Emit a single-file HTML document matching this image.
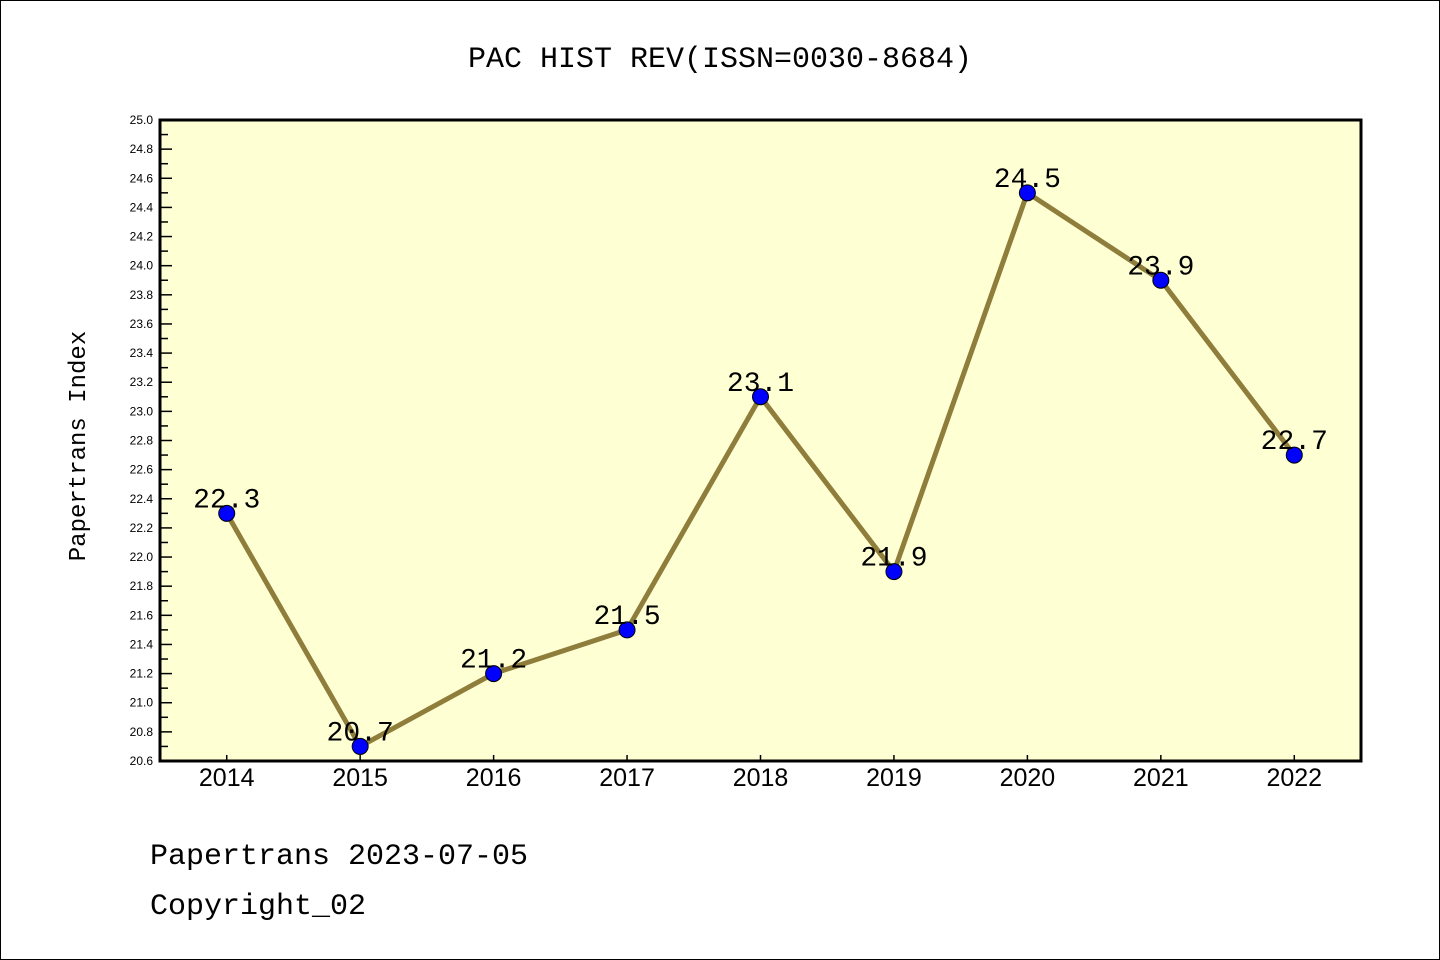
<!DOCTYPE html>
<html><head><meta charset="utf-8"><style>
body{margin:0;background:#fff}
svg{display:block;font-family:"Liberation Mono","DejaVu Sans Mono",monospace}
</style></head><body>
<svg width="1440" height="960" id="chart">
<rect x="0.5" y="0.5" width="1439" height="959" fill="#fff" stroke="#000"/>
<text x="720" y="67" text-anchor="middle" font-size="30" fill="#000">PAC HIST REV(ISSN=0030-8684)</text>
<rect x="160" y="120" width="1201" height="641" fill="#ffffd4"/>
<g id="grid"></g>
<text transform="translate(85,446) rotate(-90)" text-anchor="middle" font-size="24" fill="#000">Papertrans Index</text>
<text x="150" y="864" font-size="30" fill="#000">Papertrans 2023-07-05</text>
<text x="150" y="914" font-size="30" fill="#000">Copyright_02</text>
</svg>
<script>
const categories=["2014","2015","2016","2017","2018","2019","2020","2021","2022"];
const values=[22.3,20.7,21.2,21.5,23.1,21.9,24.5,23.9,22.7];
const yTicks=["20.6","20.8","21.0","21.2","21.4","21.6","21.8","22.0","22.2","22.4","22.6","22.8","23.0","23.2","23.4","23.6","23.8","24.0","24.2","24.4","24.6","24.8","25.0"];
const yMin=20.6,yMax=25.0;
const L=160,R=1361,T=120,B=761;
const ns="http://www.w3.org/2000/svg";
const g=document.getElementById('grid');
function y(v){return B-(v-yMin)/(yMax-yMin)*(B-T);}
function x(i){return L+(R-L)/categories.length*(i+0.5);}
function mk(t,a){const e=document.createElementNS(ns,t);for(const k in a)e.setAttribute(k,a[k]);g.appendChild(e);return e;}
yTicks.forEach((t,i)=>{
 const v=parseFloat(t),yy=y(v);
 const tk=mk('line',{x1:L,x2:L+12,y1:yy,y2:yy,stroke:'#000','stroke-width':1.5});
 
 
 const lb=mk('text',{x:153,y:yy+4,'text-anchor':'end','font-size':12,fill:'#000','font-family':'Liberation Sans, sans-serif'});
 lb.textContent=t;
 
 
 if(i<yTicks.length-1){
  const ym=y(v+0.1);
  const mn=mk('line',{x1:L,x2:L+8,y1:ym,y2:ym,stroke:'#000','stroke-width':1.5});
  
  
 }
});
categories.forEach((c,i)=>{
 const xt=mk('line',{x1:x(i),x2:x(i),y1:B,y2:B-6,stroke:'#000','stroke-width':1.5});
 
 
 const lb=mk('text',{x:x(i),y:786,'text-anchor':'middle','font-size':25,fill:'#000','font-family':'Liberation Sans, sans-serif'});
 lb.textContent=c;
 
 
});
const ax=mk('rect',{x:L,y:T,width:R-L,height:B-T,fill:'none',stroke:'#000','stroke-width':3});


const line=mk('polyline',{points:values.map((v,i)=>x(i)+','+y(v)).join(' '),fill:'none',stroke:'#8f7d3b','stroke-width':5});


values.forEach((v,i)=>{
 const c=mk('circle',{cx:x(i),cy:y(v),r:8,fill:'#0000ff',stroke:'#000','stroke-width':1});
 
 
 const t=mk('text',{x:x(i),y:y(v)-6,'text-anchor':'middle','font-size':28,fill:'#000'});
 t.textContent=v.toFixed(1);
 
 
});
</script>
</body></html>
